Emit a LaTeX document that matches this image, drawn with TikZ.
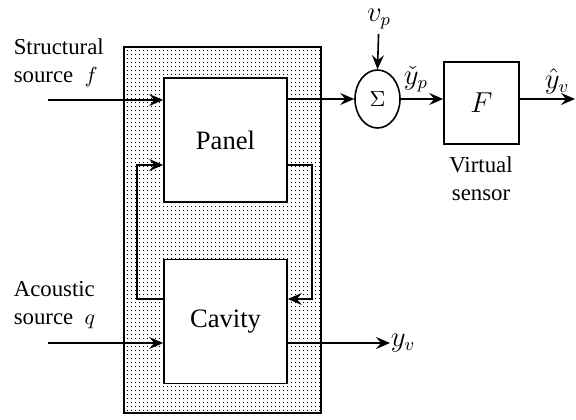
\documentclass[tikz,border=0pt]{standalone}
\usepackage{fontspec}
\setmainfont{Liberation Serif}
\usetikzlibrary{arrows.meta,positioning,shapes.geometric,patterns.meta}
\tikzdeclarepattern{name=finedots,
 bottom left={(0pt,0pt)},top right={(1.75pt,1.75pt)},tile size={(1.75pt,1.75pt)},
 code={\fill (0.875pt,0.875pt) circle (0.36pt);}}

\begin{document}
\begin{tikzpicture}[x=0.5pt,y=-0.5pt,>={Stealth[length=7pt,width=6pt,inset=2.5pt]},line width=0.8pt,
 block/.style={draw,fill=white,minimum width=61.5pt,minimum height=62pt,font=\fontsize{13.3}{16}\selectfont},
 lbl/.style={font=\fontsize{11.4}{14}\selectfont,inner sep=0pt},
 mlbl/.style={font=\fontsize{13.5}{16}\selectfont,inner sep=0pt}]
\useasboundingbox (0,0) rectangle (576,419);
\node[draw,pattern=finedots,minimum width=98.5pt,minimum height=183pt,inner sep=0pt] (plant) at (222.5,230) {};
\node[block] (panel) at (225.5,140) {Panel};
\node[block] (cavity) at (225.5,321.5) {Cavity};
\node[draw,ellipse,minimum width=22.5pt,minimum height=29pt,inner sep=0pt,font=\fontsize{11}{13}\selectfont] (sum) at (377.5,99) {$\Sigma$};
\node[draw,minimum width=37.5pt,minimum height=41pt,font=\fontsize{13.5}{16}\selectfont] (filt) at (481.5,103) {$F$};
\node[lbl,align=left,anchor=west] (flab) at (13,63) {Structural\\source\ \ $f$};
\node[lbl,align=left,anchor=west] (qlab) at (13,305) {Acoustic\\source\ \ $q$};
\node[mlbl] (vp) at (379,19) {$v_p$};
\node[mlbl] (yplab) at (416,79) {$\check{y}_p$};
\node[mlbl] (yvhat) at (557,81) {$\hat{y}_v$};
\node[lbl,align=center] (vsens) at (481,179) {Virtual\\sensor};
\node[mlbl] (yv) at (403,343) {$y_v$};
\coordinate (fin) at (48,100);
\coordinate (qin) at (48,343);
\coordinate (yout) at (575,99);
\coordinate (lp) at (137,165);
\coordinate (lc) at (137,299);
\coordinate (rp) at (312,165);
\coordinate (rc) at (312,299);
% inputs
\draw[->] (fin) -- (fin -| panel.west);
\draw[->] (qin) -- (qin -| cavity.west);
% coupling loop
\draw[->] (lc -| cavity.west) -- (lc) -- (lp) -- (lp -| panel.west);
\draw[->] (rp -| panel.east) -- (rp) -- (rc) -- (rc -| cavity.east);
% outputs
\draw[->] (panel.east |- sum) -- (sum.west);
\draw[->,shorten <=2pt] (vp) -- (sum.north);
\draw[->] (sum.east) -- (sum.east -| filt.west);
\draw[->] (filt.east |- sum) -- (yout);
\draw[->] (yv -| cavity.east) -- (yv.west);
\end{tikzpicture}
\end{document}
